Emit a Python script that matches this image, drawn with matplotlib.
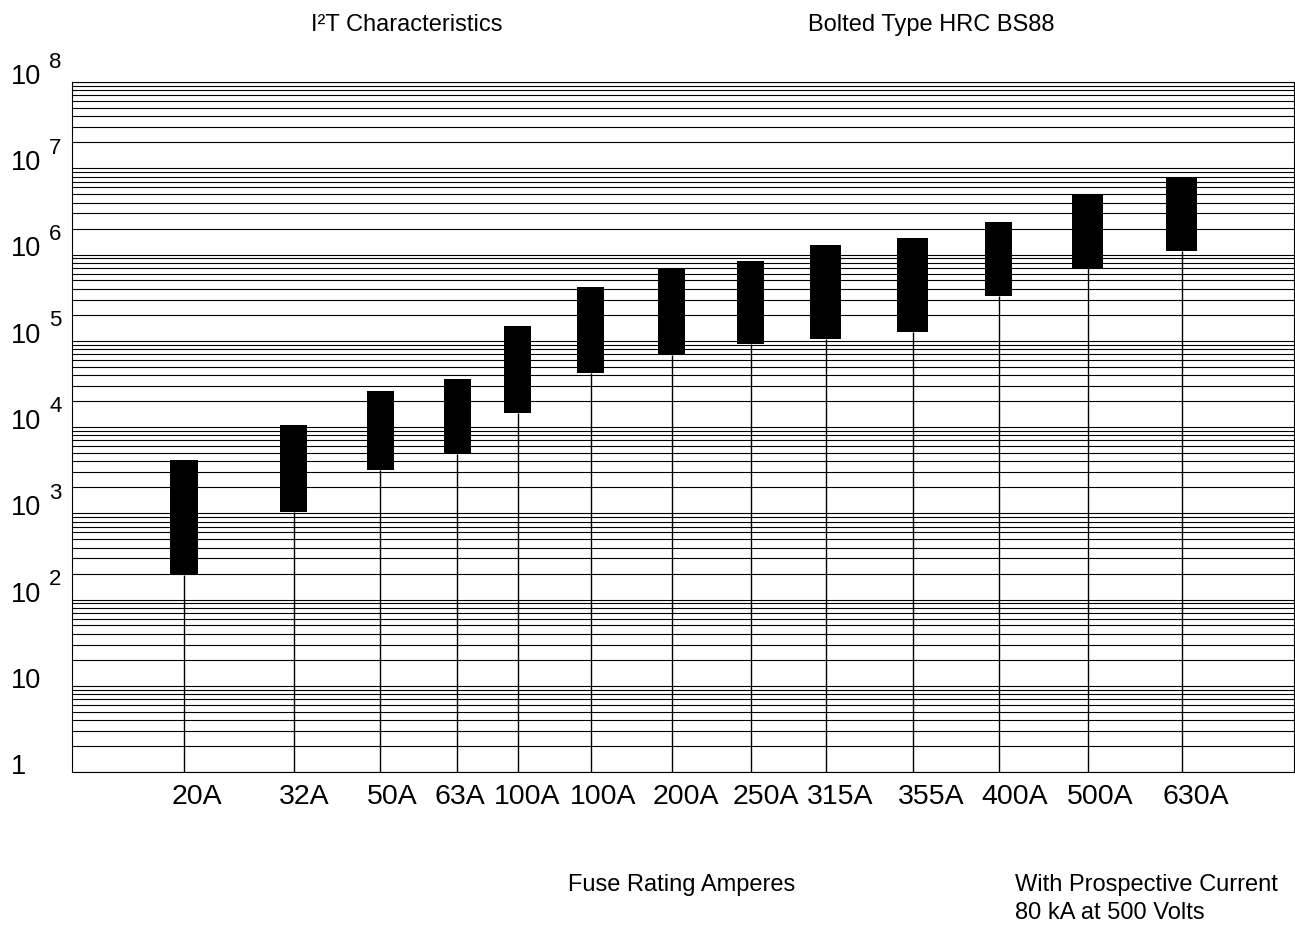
import matplotlib
matplotlib.use("Agg")
import matplotlib.pyplot as plt
import matplotlib.transforms as mtransforms
from matplotlib.ticker import LogLocator, NullFormatter

plt.rcParams['font.family'] = ['Liberation Sans', 'DejaVu Sans']

# fuse ratings and I2t band (low / high)
ratings = ["20A", "32A", "50A", "63A", "100A", "100A", "200A",
           "250A", "315A", "355A", "400A", "500A", "630A"]
i2t_low = [190, 1040, 3170, 4900, 14600, 42000, 69000,
           91000, 106000, 127000, 333000, 700000, 1.1e6]
i2t_high = [4100, 10500, 26000, 36000, 148000, 415000, 700000,
            840000, 1.29e6, 1.55e6, 2.38e6, 4.9e6, 7.7e6]
decades = [1, 10, 100, 1e3, 1e4, 1e5, 1e6, 1e7, 1e8]
decade_labels = [("1", ""), ("10", ""), ("10", "2"), ("10", "3"), ("10", "4"),
                 ("10", "5"), ("10", "6"), ("10", "7"), ("10", "8")]

# layout (pixel columns of the original drawing)
x_slots = [184, 293.5, 380, 457, 517.5, 590.5, 671.5, 750.5, 825.5, 912.5, 998.5, 1087.5, 1181.5]
bar_w = [28, 27, 27, 27, 27, 27, 27, 27, 31, 31, 27, 31, 31]
label_x = [197, 304.5, 392, 460, 527, 603.5, 686, 765.5, 840.5, 931, 1015, 1100, 1196]

W, H = 1295, 925
fig = plt.figure(figsize=(W / 100, H / 100), dpi=100)
ax = fig.add_axes([72 / W, 1 - 772 / H, (1294 - 72) / W, (772 - 82) / H])

ax.set_yscale("log")
ax.set_ylim(1, 1e8)
ax.set_xlim(72, 1294)

ax.yaxis.set_major_locator(LogLocator(base=10))
ax.yaxis.set_minor_locator(LogLocator(base=10, subs=range(2, 10)))
ax.yaxis.set_major_formatter(NullFormatter())
ax.yaxis.set_minor_formatter(NullFormatter())
ax.tick_params(which="both", length=0, labelbottom=False, labelleft=False)
ax.grid(which="both", axis="y", color="black", lw=0.8)
ax.set_axisbelow(True)
for s in ax.spines.values():
    s.set_linewidth(0.8)
    s.set_color("black")

ax.vlines(x_slots, 1, i2t_low, color="black", lw=1, zorder=2)
heights = [h - l for h, l in zip(i2t_high, i2t_low)]
ax.bar(x_slots, heights, bottom=i2t_low, width=bar_w, color="black", zorder=3)

# y axis labels: "10" with a raised exponent
blend = mtransforms.blended_transform_factory(fig.transFigure, ax.transData)
for val, (base, exp) in zip(decades, decade_labels):
    ax.annotate(base, xy=(11 / W, val), xycoords=blend, xytext=(0, 5),
                textcoords="offset pixels", ha="left", va="center", fontsize=19.5,
                annotation_clip=False)
    if exp:
        ax.annotate(exp, xy=(49 / W, val), xycoords=blend, xytext=(0, 20),
                    textcoords="offset pixels", ha="left", va="center", fontsize=16,
                    annotation_clip=False)

for lx, name in zip(label_x, ratings):
    fig.text(lx / W, 1 - 797 / H, name, ha="center", va="center", fontsize=20.5)

fig.text(407 / W, 1 - 25 / H, "I²T Characteristics", ha="center", va="center", fontsize=17)
fig.text(931 / W, 1 - 25 / H, "Bolted Type HRC BS88", ha="center", va="center", fontsize=17)
fig.text(568 / W, 1 - 885 / H, "Fuse Rating Amperes", ha="left", va="center", fontsize=17)
fig.text(1015 / W, 1 - 885 / H, "With Prospective Current", ha="left", va="center", fontsize=17)
fig.text(1015 / W, 1 - 913 / H, "80 kA at 500 Volts", ha="left", va="center", fontsize=17)

fig.savefig("out.png", dpi=100)
